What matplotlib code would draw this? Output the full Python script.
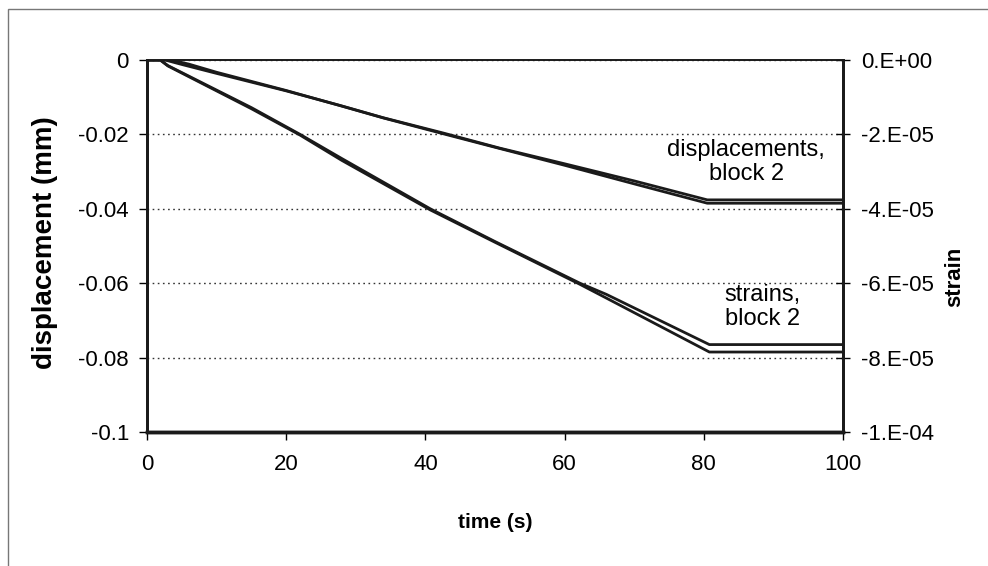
import matplotlib
matplotlib.use('Agg')
import matplotlib.pyplot as plt
from matplotlib.patches import Rectangle

plt.rcParams['font.family'] = ['Liberation Sans', 'DejaVu Sans']

# displacements, block 2 (mm)
disp_t1 = [0, 2.6, 5, 10, 20, 27.7, 33.9, 42.5, 50.7, 60, 70, 80.5, 100]
disp_1 = [0, 0, -0.0012, -0.0036, -0.0083, -0.0122, -0.0155, -0.0196, -0.0237, -0.0279, -0.0325, -0.0376, -0.0376]
disp_t2 = [0, 3.5, 6, 10, 20, 28, 34, 42.5, 50.7, 60, 70, 80.5, 100]
disp_2 = [0, 0, -0.0011, -0.0033, -0.0082, -0.0124, -0.0156, -0.0198, -0.0238, -0.0283, -0.0333, -0.0385, -0.0385]

# strains, block 2
strain_t1 = [0, 1.9, 3, 15, 22, 28, 40.7, 50, 62.2, 66, 80.8, 100]
strain_1 = [0, 0, -1.5e-6, -1.28e-5, -2.0e-5, -2.65e-5, -4.0e-5, -4.88e-5, -6.0e-5, -6.3e-5, -7.65e-5, -7.65e-5]
strain_t2 = [0, 1.9, 3, 15, 22, 28, 40.7, 50, 62.2, 66, 80.8, 100]
strain_2 = [0, 0, -1.6e-6, -1.31e-5, -2.02e-5, -2.7e-5, -4.03e-5, -4.9e-5, -6.03e-5, -6.4e-5, -7.85e-5, -7.85e-5]

x_ticks = [0, 20, 40, 60, 80, 100]
left_ticks = [0, -0.02, -0.04, -0.06, -0.08, -0.1]
left_labels = ['0', '-0.02', '-0.04', '-0.06', '-0.08', '-0.1']
right_ticks = [0, -2e-5, -4e-5, -6e-5, -8e-5, -1e-4]
right_labels = ['0.E+00', '-2.E-05', '-4.E-05', '-6.E-05', '-8.E-05', '-1.E-04']

fig = plt.figure(figsize=(9.88, 5.66), dpi=100)
ax = fig.add_axes([147/988, 1-432/566, (843-147)/988, (432-60)/566])
ax2 = ax.twinx()

ax.plot(disp_t1, disp_1, color='#1a1a1a', lw=2)
ax.plot(disp_t2, disp_2, color='#1a1a1a', lw=2)
ax2.plot(strain_t1, strain_1, color='#1a1a1a', lw=2)
ax2.plot(strain_t2, strain_2, color='#1a1a1a', lw=2)

ax.set_xlim(0, 100)
ax.set_ylim(-0.1, 0)
ax2.set_ylim(-1e-4, 0)
ax.set_xticks(x_ticks)
ax.set_xticklabels([str(v) for v in x_ticks], fontsize=16)
ax.set_yticks(left_ticks)
ax.set_yticklabels(left_labels, fontsize=16)
ax2.set_yticks(right_ticks)
ax2.set_yticklabels(right_labels, fontsize=16)

ax.grid(axis='y', linestyle=(0, (1.2, 2.5)), color='#333333', lw=1)
ax.tick_params(axis='y', direction='out', length=6, width=1, pad=7)
ax.tick_params(axis='x', direction='out', length=6, width=1, pad=10)
ax2.tick_params(axis='y', direction='inout', length=10, width=1, pad=8)

for a in (ax, ax2):
    a.spines['left'].set_linewidth(2)
    a.spines['right'].set_linewidth(2)
    a.spines['bottom'].set_linewidth(2.5)
    a.spines['top'].set_linewidth(1.2)
    for s in a.spines.values():
        s.set_color('#1a1a1a')

fig.text(45/988, 1-243/566, 'displacement (mm)', rotation=90, ha='center', va='center',
         fontsize=20, fontweight='bold')
fig.text(955/988, 1-277/566, 'strain', rotation=90, ha='center', va='center',
         fontsize=16, fontweight='bold')
fig.text(495/988, 1-522/566, 'time (s)', ha='center', va='center',
         fontsize=15, fontweight='bold')

ax.text(86.1, -0.0274, 'displacements,\nblock 2', ha='center', va='center', fontsize=17,
        linespacing=1.1)
ax.text(88.4, -0.0664, 'strains,\nblock 2', ha='center', va='center', fontsize=17,
        linespacing=1.1)

fig.patches.append(Rectangle((8/988, -0.05), 1.1, 1-9/566+0.05, transform=fig.transFigure,
                             fill=False, edgecolor='#777777', lw=1))

fig.savefig('out.png', dpi=100)
